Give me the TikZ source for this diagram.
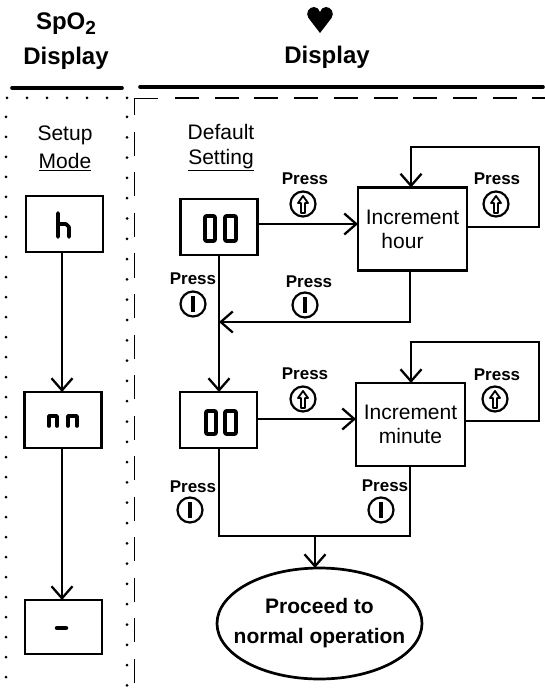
\documentclass[tikz,border=0pt]{standalone}
\usepackage{fontspec}
\setmainfont{Liberation Sans}
\usetikzlibrary{arrows.meta,shapes.geometric}
\tikzset{
  lbl/.style={inner sep=0pt,outer sep=0pt,align=center,font=\fontsize{21}{24}\selectfont},
  hdr/.style={inner sep=0pt,outer sep=0pt,align=center,font=\fontsize{24}{34}\selectfont\bfseries},
  press/.style={inner sep=0pt,font=\fontsize{17}{17}\selectfont\bfseries},
  dbox/.style={draw,line width=2.7pt,minimum width=77pt,minimum height=56pt,inner sep=0pt,outer sep=0pt},
  incbox/.style={dbox,minimum width=109pt,minimum height=83pt,align=center,font=\fontsize{21}{24}\selectfont},
  conn/.style={line width=2.3pt},
  arr/.style={conn,-{Straight Barb[length=12pt,width=21pt,line width=2.3pt]}},
  rulel/.style={line width=3.6pt,line cap=round},
  seg/.style={line width=3.6pt,line join=round,line cap=round},
  btnup/.style={circle,draw,line width=2.2pt,minimum size=25pt,inner sep=0pt,
    path picture={\draw[line width=1.8pt,line join=round,shift={(path picture bounding box.center)}]
      (-2,9)--(2,9)--(2,-1)--(5,-1)--(0,-8)--(-5,-1)--(-2,-1)--cycle;}},
  btnin/.style={circle,draw,line width=2.2pt,minimum size=25pt,inner sep=0pt,
    path picture={\draw[line width=3.4pt,shift={(path picture bounding box.center)}] (0,-8)--(0,8);}},
}
\begin{document}
\begin{tikzpicture}[x=1pt,y=-1pt]
\useasboundingbox (0,0) rectangle (545,692);
% headers
\node[hdr] (h1) at (66,41) {SpO\raisebox{-5pt}{\fontsize{19}{19}\selectfont 2}\\[1pt]Display};
\node[hdr] (h2) at (327,57) {Display};
\fill (320,33) -- (308.5,18) .. controls (305,13) and (309,7) .. (314,7) .. controls (317,7) and (319,9) .. (320,12) .. controls (321,9) and (323,7) .. (326,7) .. controls (331,7) and (335,13) .. (331.5,18) -- cycle;
\draw[rulel] (12,88) -- (122,88);
\draw[rulel] (140,87) -- (543,87);
% frames
\draw[line width=3pt,line cap=round,dash pattern=on 0pt off 20pt] (127,98) -- (6,98) -- (6,692);
\draw[line width=3pt,line cap=round,dash pattern=on 0pt off 20.3pt] (127,117) -- (127,692);
\draw[line width=1.9pt] (134.5,115) -- (134.5,98.5) -- (158,98.5);
\draw[line width=1.9pt,dash pattern=on 24pt off 15.7pt] (175,98) -- (545,98);
\draw[line width=1.9pt,dash pattern=on 24pt off 16.5pt] (134.5,132) -- (134.5,692);
% titles
\node[lbl] (t1) at (65,148) {Setup\\[4pt]\underline{Mode}};
\node[lbl] (t2) at (221,147.5) {Default\\[1pt]\underline{Setting}};
% boxes
\node[dbox] (bh) at (64.5,224) {};
\node[dbox] (bn) at (63,420) {};
\node[dbox,minimum height=54pt] (bd) at (63.5,627) {};
\node[dbox] (z1) at (219,227) {};
\node[dbox] (z2) at (218.5,420) {};
\node[incbox] (ih) at (412.5,229) {Increment\\\hspace*{-20pt}hour};
\node[incbox] (im) at (410.5,424.5) {Increment\\minute};
\node[draw,ellipse,line width=2.7pt,minimum width=205pt,minimum height=111pt,inner sep=0pt,outer sep=0pt] (end) at (319.5,623.5) {};
\node[inner sep=0pt,align=center,font=\fontsize{21}{30}\selectfont\bfseries] (endt) at (end.center) {Proceed to\\normal operation};
% display glyphs
\draw[seg] (58,213) -- (58,237) (58,224) -- (66,224) -- (69,227) -- (69,237);
\draw[seg] (49,426) -- (49,416) -- (57,416) -- (57,426) (68,426) -- (68,416) -- (77,416) -- (77,426);
\draw[line width=4.5pt,line cap=round] (57,628) -- (66,628);
\draw[seg,rounded corners=1pt] (205,216) rectangle (215,241) (225,216) rectangle (236,241);
\draw[seg,rounded corners=1pt] (206,411) rectangle (216,434) (225,411) rectangle (236,434);
% connector guides
\coordinate (cl) at (62,0);
\coordinate (cd) at (219,0);
\coordinate (ch) at (410,0);
\coordinate (cr) at (539,0);
\coordinate (ct) at (411,0);
\coordinate (c1) at (0,224);
\coordinate (c2) at (0,227);
\coordinate (c3) at (0,419);
\coordinate (c4) at (0,421);
\coordinate (j1) at (219,322);
\coordinate (j2) at (315,536);
\coordinate (lh) at (539,147);
\coordinate (lm) at (539,342);
% connectors
\draw[arr] (bh.south -| cl) -- (bn.north -| cl);
\draw[arr] (bn.south -| cl) -- (bd.north -| cl);
\draw[arr] (z1.south -| cd) -- (z2.north -| cd);
\draw[arr] (z1.east |- c1) -- (ih.west |- c1);
\draw[arr] (z2.east |- c3) -- (im.west |- c3);
\draw[arr] (ih.east |- c2) -- (cr |- c2) -- (lh) -- (ct |- lh) -- (ih.north -| ct);
\draw[arr] (im.east |- c4) -- (cr |- c4) -- (lm) -- (ct |- lm) -- (im.north -| ct);
\draw[arr] (ih.south -| ch) -- (ch |- j1) -- (j1);
\draw[conn] (z2.south -| cd) -- (cd |- j2) -- (ch |- j2) -- (im.south -| ch);
\draw[arr] (j2) -- (end.north -| j2);
% press labels
\node[press] (p1) at (305,179) {Press};
\node[btnup] (u1) at (303,204) {};
\node[press] (p2) at (497,179) {Press};
\node[btnup] (u2) at (496,204) {};
\node[press] (p3) at (309,282) {Press};
\node[btnin] (i3) at (305,305) {};
\node[press] (p4) at (193,279) {Press};
\node[btnin] (i4) at (193,304) {};
\node[press] (p5) at (305,374) {Press};
\node[btnup] (u5) at (303,399) {};
\node[press] (p6) at (497,375) {Press};
\node[btnup] (u6) at (495,399) {};
\node[press] (p7) at (193,487) {Press};
\node[btnin] (i7) at (190,510) {};
\node[press] (p8) at (385,486) {Press};
\node[btnin] (i8) at (381,510) {};
\end{tikzpicture}
\end{document}
